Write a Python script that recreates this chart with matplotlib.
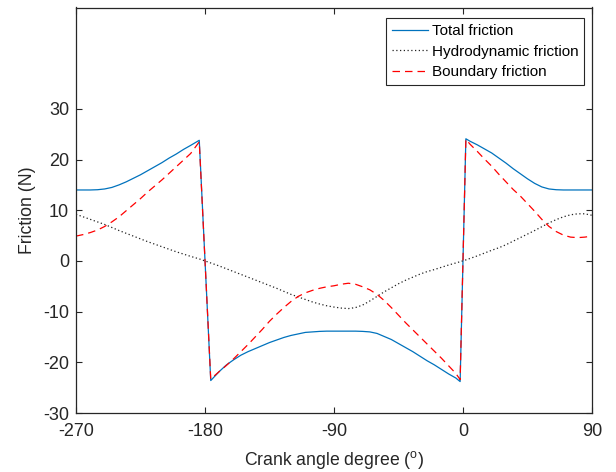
import matplotlib
matplotlib.use("Agg")
import matplotlib.pyplot as plt

plt.rcParams['font.family'] = ['Liberation Sans', 'DejaVu Sans']
plt.rcParams['mathtext.fontset'] = 'custom'
plt.rcParams['mathtext.rm'] = 'Liberation Sans'
plt.rcParams['mathtext.it'] = 'Liberation Sans:italic'

crank_angle = [-270, -265, -260, -255, -250, -245, -240, -235, -230, -225, -220, -215,
               -210, -205, -200, -195, -190, -184,
               -176, -170, -165, -160, -155, -150, -145, -140, -135, -130,
               -125, -120, -115, -110, -105, -100, -95, -90, -85, -80,
               -75, -70, -65, -60, -55, -50, -45, -40, -35, -30,
               -25, -20, -15, -10, -5, -2,
               2, 5, 10, 15, 20, 25, 30, 35, 40, 45, 50, 55, 60, 65, 70, 75, 80, 85, 90]

total_friction = [14.0, 14.0, 14.0, 14.05, 14.2, 14.5, 15.0, 15.6, 16.3, 17.0, 17.8, 18.6,
                  19.4, 20.3, 21.1, 22.0, 22.8, 23.8,
                  -23.6, -21.8, -20.5, -19.5, -18.6, -17.9, -17.3, -16.7, -16.1, -15.6,
                  -15.1, -14.7, -14.4, -14.1, -14.0, -13.9, -13.85, -13.85, -13.85, -13.85,
                  -13.85, -13.9, -14.0, -14.3, -14.9, -15.5, -16.3, -17.1, -17.9, -18.8,
                  -19.7, -20.5, -21.4, -22.3, -23.1, -23.8,
                  24.1, 23.6, 22.9, 22.1, 21.3, 20.3, 19.3, 18.2, 17.2, 16.2, 15.3, 14.6, 14.2,
                  14.05, 14.0, 14.0, 14.0, 14.0, 14.0]

hydro_friction = [9.2, 8.7, 8.2, 7.7, 7.2, 6.6, 6.0, 5.45, 4.9, 4.35, 3.8, 3.3,
                  2.8, 2.3, 1.8, 1.35, 0.9, 0.4,
                  -0.4, -1.0, -1.55, -2.1, -2.65, -3.2, -3.75, -4.3, -4.85, -5.4,
                  -6.0, -6.6, -7.1, -7.6, -8.1, -8.5, -8.85, -9.1, -9.3, -9.4,
                  -9.2, -8.7, -7.9, -7.0, -6.1, -5.3, -4.5, -3.8, -3.2, -2.6,
                  -2.1, -1.7, -1.25, -0.8, -0.4, -0.15,
                  0.2, 0.5, 1.0, 1.55, 2.1, 2.6, 3.2, 3.9, 4.6, 5.3, 6.0, 6.75, 7.5,
                  8.15, 8.7, 9.1, 9.3, 9.3, 9.0]

boundary_friction = [4.9, 5.2, 5.6, 6.1, 6.8, 7.7, 8.7, 9.9, 11.1, 12.3, 13.6, 14.8,
                     16.0, 17.3, 18.6, 19.9, 21.2, 23.5,
                     -23.3, -21.8, -20.6, -19.3, -17.9, -16.5, -15.0, -13.5, -11.9, -10.5,
                     -9.2, -8.0, -7.0, -6.3, -5.8, -5.4, -5.1, -4.9, -4.6, -4.4,
                     -4.6, -5.1, -5.7, -6.6, -7.8, -9.2, -10.7, -12.2, -13.6, -15.0,
                     -16.4, -17.8, -19.2, -20.7, -22.2, -23.4,
                     24.0, 23.0, 21.6, 20.1, 18.7, 17.1, 15.6, 14.1, 12.8, 11.3, 9.8, 8.2, 6.8,
                     5.8, 5.1, 4.7, 4.6, 4.7, 4.9]

labels = ['Total friction', 'Hydrodynamic friction', 'Boundary friction']
x_ticks = [-270, -180, -90, 0, 90]
y_ticks = [-30, -20, -10, 0, 10, 20, 30]

axcol = '#262626'
fig = plt.figure(figsize=(6.16, 4.72), dpi=100)
ax = fig.add_axes([76/616, 1 - 413/472, (592-76)/616, (413-7.5)/472])

ax.plot(crank_angle, total_friction, color='#0072BD', lw=0.9, label=labels[0])
ax.plot(crank_angle, hydro_friction, color='#222222', lw=0.9, ls=(0, (1, 2)), label=labels[1])
ax.plot(crank_angle, boundary_friction, color='#FF0000', lw=0.9, ls=(0, (6, 4)), label=labels[2])

ax.set_xlim(-270, 90)
ax.set_ylim(-30, 50)
ax.set_xticks(x_ticks)
ax.set_xticklabels([str(v) for v in x_ticks])
ax.set_yticks(y_ticks)
ax.set_yticklabels([str(v) for v in y_ticks])
ax.tick_params(direction='in', length=4, width=0.8, colors=axcol, labelsize=13,
               top=True, right=True, labelcolor=axcol)
ax.tick_params(axis='x', pad=7)
ax.tick_params(axis='y', pad=5)
for s in ax.spines.values():
    s.set_color(axcol)
    s.set_linewidth(0.9)

ax.set_xlabel(r'Crank angle degree ($^{\mathrm{o}}$)', fontsize=12.7, color=axcol, labelpad=7)
ax.set_ylabel('Friction (N)', fontsize=12.7, color=axcol, labelpad=5)

leg = ax.legend(loc='upper right', bbox_to_anchor=(0.985, 0.974), borderaxespad=0,
                fancybox=False, edgecolor=axcol, fontsize=11, handlelength=2.4,
                handletextpad=0.2, labelspacing=0.42, borderpad=0.4, framealpha=1)
leg.get_frame().set_linewidth(0.8)

fig.savefig('out.png', dpi=100)
